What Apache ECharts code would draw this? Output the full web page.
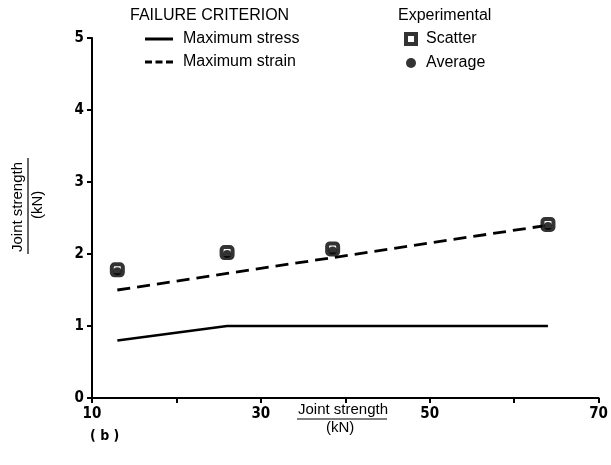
<!DOCTYPE html>
<html>
<head>
<meta charset="utf-8">
<script src="https://cdn.jsdelivr.net/npm/echarts@6/dist/echarts.min.js"></script>
<style>
  html, body { margin: 0; padding: 0; background: #fff; }
  #chart { width: 611px; height: 465px; }
</style>
</head>
<body>
<div id="chart"></div>
<script>
// Joint length positions (x) and strengths (kN)
const jointX = [13, 26, 38.5, 64];
const maxStress = [0.8, 1.0, 1.0, 1.0];
const maxStrain = [1.5, 1.73, 1.95, 2.4];
const scatterVals = [1.78, 2.02, 2.07, 2.41];
const averageVals = [1.78, 2.02, 2.07, 2.41];
const xTickLabels = ['10', '30', '50', '70'];
const yTickLabels = ['0', '1', '2', '3', '4', '5'];

const pairs = ys => jointX.map((x, i) => [x, ys[i]]);

const tickFont = {
  color: '#000',
  fontFamily: 'DejaVu Sans Condensed, DejaVu Sans',
  fontWeight: 'bold',
  fontSize: 15
};
const textFont = 'Liberation Sans, Arial, sans-serif';

const chart = echarts.init(document.getElementById('chart'), null, { renderer: 'canvas' });

chart.setOption({
  animation: false,
  backgroundColor: '#fff',
  grid: { left: 92, right: 11, top: 38, bottom: 67 },
  xAxis: {
    type: 'value', min: 10, max: 70, interval: 10,
    axisLine: { lineStyle: { color: '#000', width: 2 } },
    axisTick: { length: 5, lineStyle: { color: '#000', width: 2 } },
    splitLine: { show: false },
    axisLabel: Object.assign({}, tickFont, {
      margin: 9,
      formatter: v => xTickLabels.indexOf(String(v)) >= 0 ? String(v) : ''
    })
  },
  yAxis: {
    type: 'value', min: 0, max: 5, interval: 1,
    axisLine: { lineStyle: { color: '#000', width: 2 } },
    axisTick: { length: 5, lineStyle: { color: '#000', width: 2 } },
    splitLine: { show: false },
    axisLabel: Object.assign({}, tickFont, {
      margin: 8,
      formatter: v => yTickLabels[v]
    })
  },
  legend: [
    {
      orient: 'vertical', left: 140, top: 26,
      itemWidth: 28, itemHeight: 3, itemGap: 7,
      data: [
        { name: 'Maximum stress', icon: 'rect' },
        { name: 'Maximum strain', icon: 'path://M0,0h7v3h-7zM10.5,0h7v3h-7zM21,0h7v3h-7z' }
      ],
      itemStyle: { color: '#000' },
      textStyle: { color: '#000', fontSize: 16, fontFamily: textFont, padding: [0, 0, 0, 5] }
    },
    {
      orient: 'vertical', left: 399, top: 26,
      itemWidth: 10, itemHeight: 10, itemGap: 8,
      data: [
        { name: 'Scatter', icon: 'rect', itemStyle: { color: '#fff', borderColor: '#000', borderWidth: 4 } },
        { name: 'Average', icon: 'circle', itemStyle: { color: '#000', borderWidth: 0 } }
      ],
      textStyle: { color: '#000', fontSize: 16, fontFamily: textFont, padding: [0, 0, 0, 5] }
    }
  ],
  graphic: [
    { type: 'text', left: 130, top: 8,
      style: { text: 'FAILURE CRITERION', fill: '#000', font: '16px ' + textFont } },
    { type: 'text', left: 398, top: 8,
      style: { text: 'Experimental', fill: '#000', font: '16px ' + textFont } },
    // x-axis title
    { type: 'text', left: 298, top: 402,
      style: { text: 'Joint strength', fill: '#000', font: '15px ' + textFont } },
    { type: 'line', shape: { x1: 297, y1: 419, x2: 387, y2: 419 },
      style: { stroke: '#000', lineWidth: 1.2 } },
    { type: 'text', left: 326, top: 420,
      style: { text: '(kN)', fill: '#000', font: '15px ' + textFont } },
    // y-axis title (rotated)
    { type: 'text', x: 10, y: 252, rotation: Math.PI / 2,
      style: { text: 'Joint strength', fill: '#000', font: '15px ' + textFont,
               align: 'left', verticalAlign: 'top' } },
    { type: 'line', shape: { x1: 28, y1: 158, x2: 28, y2: 254 },
      style: { stroke: '#000', lineWidth: 1.2 } },
    { type: 'text', x: 30, y: 219, rotation: Math.PI / 2,
      style: { text: '(kN)', fill: '#000', font: '15px ' + textFont,
               align: 'left', verticalAlign: 'top' } },
    // panel tag
    { type: 'text', left: 90, top: 429,
      style: { text: '( b )', fill: '#000', font: 'bold 14px DejaVu Sans Condensed, DejaVu Sans' } }
  ],
  series: [
    {
      name: 'Maximum stress', type: 'line', data: pairs(maxStress),
      symbol: 'none', lineStyle: { color: '#000', width: 2.5, type: 'solid' },
      itemStyle: { color: '#000' }
    },
    {
      name: 'Maximum strain', type: 'line', data: pairs(maxStrain),
      symbol: 'none', lineStyle: { color: '#000', width: 2.8, type: [13, 7] },
      itemStyle: { color: '#000' }
    },
    {
      name: 'Scatter', type: 'scatter', data: pairs(scatterVals),
      symbol: 'roundRect', symbolSize: 11, z: 3,
      itemStyle: { color: '#fff', borderColor: '#000', borderWidth: 4 }
    },
    {
      name: 'Average', type: 'scatter', data: pairs(averageVals),
      symbol: 'circle', symbolSize: 8, symbolOffset: [0, 1.5], z: 4,
      itemStyle: { color: '#000' }
    }
  ]
});
</script>
</body>
</html>
